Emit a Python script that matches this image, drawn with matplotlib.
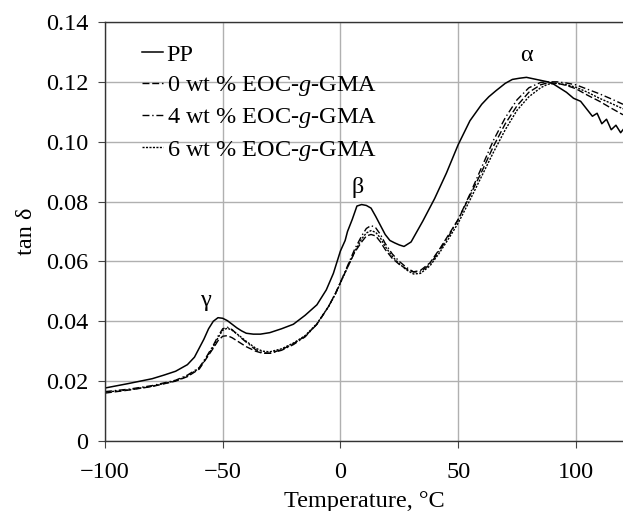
import matplotlib.pyplot as plt
import numpy as np

plt.rcParams['font.family'] = ['Liberation Serif', 'DejaVu Serif']
plt.rcParams['mathtext.fontset'] = 'custom'
plt.rcParams['mathtext.rm'] = 'Liberation Serif'
plt.rcParams['mathtext.it'] = 'Liberation Serif:italic'

# PP (neat polypropylene)
temp_pp = [-100, -90, -80, -75, -70, -65, -62, -60, -58, -56, -54, -52, -50, -48, -46, -44, -42, -40,
           -37, -34, -30, -25, -20, -15, -10, -6, -3, 0, 2, 3, 5, 7, 9, 11, 13, 15, 17, 19, 21, 23, 25,
           27, 30, 35, 40, 45, 50, 55, 60, 63, 66, 70, 73, 76, 79, 82, 85, 88, 90, 93, 96, 99, 102,
           105, 107, 109, 111, 113, 115, 117, 119, 120]
tan_pp = [0.0177, 0.0192, 0.0208, 0.0220, 0.0233, 0.0255, 0.0280, 0.0310, 0.0340, 0.0375, 0.0400,
          0.0412, 0.0410, 0.0402, 0.0390, 0.0378, 0.0368, 0.0360, 0.0357, 0.0357, 0.0362, 0.0375,
          0.0390, 0.0420, 0.0455, 0.0505, 0.0560, 0.0635, 0.0670, 0.0700, 0.0740, 0.0785, 0.0790,
          0.0787, 0.0778, 0.0750, 0.0720, 0.0690, 0.0670, 0.0662, 0.0655, 0.0650, 0.0665, 0.0735,
          0.0810, 0.0895, 0.0990, 0.1070, 0.1125, 0.1150, 0.1170, 0.1195, 0.1208, 0.1212, 0.1215,
          0.1210, 0.1205, 0.1200, 0.1195, 0.1180, 0.1165, 0.1145, 0.1135, 0.1105, 0.1085, 0.1095,
          0.1060, 0.1075, 0.1040, 0.1055, 0.1030, 0.1040]

# blends, same temperature grid
temp_blend = [-100, -90, -80, -70, -65, -60, -57, -54, -52, -50, -48, -46, -43, -40, -36, -33, -30,
              -25, -20, -15, -10, -5, -2, 0, 3, 6, 9, 11, 13, 15, 17, 19, 22, 25, 28, 31, 34, 38, 42,
              46, 50, 55, 60, 65, 70, 75, 80, 85, 88, 92, 96, 100, 105, 110, 115, 120]
tan_0 = [0.0160, 0.0170, 0.0182, 0.0200, 0.0215, 0.0240, 0.0275, 0.0310, 0.0335, 0.0350, 0.0352,
         0.0345, 0.0330, 0.0315, 0.0300, 0.0293, 0.0293, 0.0305, 0.0325, 0.0350, 0.0390, 0.0450,
         0.0495, 0.0530, 0.0580, 0.0630, 0.0665, 0.0685, 0.0690, 0.0685, 0.0665, 0.0640, 0.0610,
         0.0590, 0.0575, 0.0565, 0.0570, 0.0595, 0.0640, 0.0690, 0.0740, 0.0820, 0.0900, 0.0985,
         0.1060, 0.1120, 0.1165, 0.1190, 0.1197, 0.1195, 0.1188, 0.1177, 0.1155, 0.1135, 0.1112,
         0.1090]
tan_4 = [0.0165, 0.0173, 0.0185, 0.0203, 0.0220, 0.0245, 0.0280, 0.0320, 0.0350, 0.0375, 0.0380,
         0.0372, 0.0350, 0.0330, 0.0305, 0.0295, 0.0293, 0.0303, 0.0322, 0.0348, 0.0390, 0.0450,
         0.0495, 0.0530, 0.0585, 0.0640, 0.0685, 0.0710, 0.0720, 0.0712, 0.0690, 0.0660, 0.0625,
         0.0600, 0.0580, 0.0565, 0.0565, 0.0590, 0.0635, 0.0685, 0.0740, 0.0825, 0.0915, 0.1005,
         0.1080, 0.1140, 0.1180, 0.1198, 0.1200, 0.1200, 0.1196, 0.1190, 0.1175, 0.1160, 0.1143,
         0.1125]
tan_6 = [0.0163, 0.0171, 0.0183, 0.0201, 0.0217, 0.0243, 0.0277, 0.0315, 0.0345, 0.0370, 0.0377,
         0.0370, 0.0352, 0.0333, 0.0310, 0.0300, 0.0298, 0.0308, 0.0327, 0.0352, 0.0392, 0.0450,
         0.0493, 0.0528, 0.0580, 0.0632, 0.0675, 0.0695, 0.0703, 0.0697, 0.0678, 0.0650, 0.0617,
         0.0592, 0.0572, 0.0558, 0.0560, 0.0585, 0.0628, 0.0677, 0.0728, 0.0805, 0.0885, 0.0965,
         0.1040, 0.1105, 0.1150, 0.1180, 0.1192, 0.1195, 0.1190, 0.1182, 0.1165, 0.1145, 0.1128,
         0.1110]

labels = ['PP', '0 wt % EOC-$g$-GMA', '4 wt % EOC-$g$-GMA', '6 wt % EOC-$g$-GMA']
peak_names = ['γ', 'β', 'α']
peak_pos = [(-57.5, 0.047), (7.2, 0.0847), (78.8, 0.1287)]

xticks = [-100, -50, 0, 50, 100]
yticks = [0, 0.02, 0.04, 0.06, 0.08, 0.10, 0.12, 0.14]

fs = 17.5

fig = plt.figure(figsize=(6.23, 5.11), dpi=100)
ax = fig.add_axes([0.1685, 0.137, 0.8315, 0.820])

ax.plot(temp_pp, tan_pp, color='black', lw=1.1, ls='-', label=labels[0])
ax.plot(temp_blend, tan_0, color='black', lw=1.0, ls=(0, (5, 2)), label=labels[1])
ax.plot(temp_blend, tan_4, color='black', lw=1.0, ls=(0, (5, 2, 1, 2)), label=labels[2])
ax.plot(temp_blend, tan_6, color='black', lw=1.0, ls=(0, (1.5, 1)), label=labels[3])

for name, (px, py) in zip(peak_names, peak_pos):
    ax.text(px, py, name, fontsize=fs, ha='center', va='center')

ax.set_xlim(-100, 120)
ax.set_ylim(0, 0.14)
ax.set_xticks(xticks)
ax.set_xticklabels([str(t).replace('-', '\u2212') for t in xticks])
ax.set_yticks(yticks)
ax.set_yticklabels(['0' if t == 0 else f'{t:.2f}' for t in yticks])
ax.tick_params(labelsize=fs, length=5, width=0.8, color='#444444')
ax.tick_params(axis='x', pad=10)
ax.tick_params(axis='y', pad=7)

ax.grid(True, color='#b0b0b0', lw=1.0)
ax.set_axisbelow(True)
ax.spines['right'].set_visible(False)
for s in ['left', 'bottom', 'top']:
    ax.spines[s].set_color('#333333')
    ax.spines[s].set_linewidth(1.0)

ax.set_xlabel('Temperature, °C', fontsize=fs, labelpad=6)
ax.set_ylabel('tan δ', fontsize=fs, labelpad=6)

ax.legend(loc='upper left', bbox_to_anchor=(0.071, 0.948), frameon=False, fontsize=fs,
          handlelength=0.86, handletextpad=0.16, labelspacing=0.34, borderpad=0, borderaxespad=0)

plt.savefig('out.png', dpi=100)
